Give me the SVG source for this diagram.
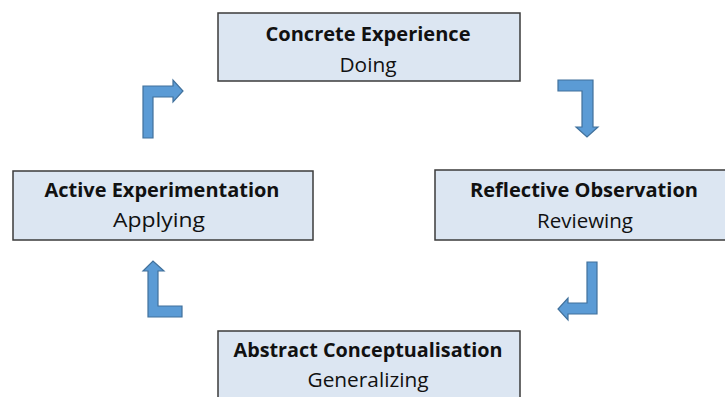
<svg xmlns="http://www.w3.org/2000/svg" width="725" height="397" viewBox="0 0 725 397">
<style>
.box{fill:#dce6f2;stroke:#3b3b3b;stroke-width:1.5}
.t{font-family:"Open Sans","Liberation Sans",sans-serif;font-size:20px;fill:#111;text-anchor:middle}
.b{font-weight:bold}
.arr{fill:#5b9bd5;stroke:#41719c;stroke-width:1.2;stroke-linejoin:miter}
</style>
<rect width="725" height="397" fill="#ffffff"/>
<g id="concrete">
<rect class="box" x="218" y="13" width="302" height="68"/>
<text class="t b" x="368" y="41" textLength="205" lengthAdjust="spacingAndGlyphs">Concrete Experience</text>
<text class="t" x="368" y="72" textLength="57" lengthAdjust="spacingAndGlyphs">Doing</text>
</g>
<g id="reflective">
<rect class="box" x="435" y="170" width="300" height="70"/>
<text class="t b" x="584" y="197" textLength="228" lengthAdjust="spacingAndGlyphs">Reflective Observation</text>
<text class="t" x="585" y="228" textLength="96" lengthAdjust="spacingAndGlyphs">Reviewing</text>
</g>
<g id="abstract">
<rect class="box" x="218" y="331" width="302" height="80"/>
<text class="t b" x="368" y="357" textLength="269" lengthAdjust="spacingAndGlyphs">Abstract Conceptualisation</text>
<text class="t" x="368" y="387" textLength="121" lengthAdjust="spacingAndGlyphs">Generalizing</text>
</g>
<g id="active">
<rect class="box" x="13" y="171" width="300" height="69"/>
<text class="t b" x="162" y="197" textLength="235" lengthAdjust="spacingAndGlyphs">Active Experimentation</text>
<text class="t" x="159" y="227" textLength="92" lengthAdjust="spacingAndGlyphs">Applying</text>
</g>
<g id="connectors">
<path class="arr" d="M143,138 L143,86 L173,86 L173,80 L183,91 L173,102 L173,97 L153,97 L153,138 Z"/>
<path class="arr" d="M558,80 L593,80 L593,127 L598,127 L587,137 L576,127 L582,127 L582,91 L558,91 Z"/>
<path class="arr" d="M597,262 L597,314 L568,314 L568,320 L558,309 L568,298 L568,303 L587,303 L587,262 Z"/>
<path class="arr" d="M182,317 L148,317 L148,271 L143,271 L153,261 L164,271 L158,271 L158,306 L182,306 Z"/>
</g>
</svg>
